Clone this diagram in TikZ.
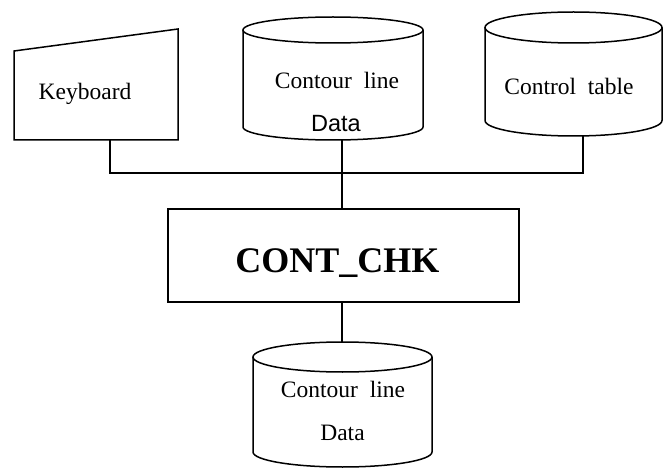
\documentclass[tikz,border=0pt]{standalone}
\usepackage{fontspec}
\setmainfont{Liberation Serif}
\setsansfont{Liberation Sans}

% outline of a drum (database) around an invisible shell node
% #1 shell node, #2 half width, #3 vertical radius of the ellipses
\newcommand\drumoutline[3]{%
  \draw ([yshift=-#3]#1.north) ellipse[x radius=#2, y radius=#3];
  \draw ([yshift=-#3]#1.north west) -- ([yshift=#3]#1.south west)
        arc[start angle=180, end angle=360, x radius=#2, y radius=#3]
        -- ([yshift=-#3]#1.north east);
}

\tikzset{
  shell/.style={inner sep=0pt, outer sep=0pt, draw=none},
  procbox/.style={draw, inner sep=0pt, outer sep=0pt},
  lbl/.style={inner sep=0pt, anchor=base, font=\fontsize{23.5}{28}\selectfont},
  biglbl/.style={inner sep=0pt, anchor=base, font=\fontsize{36}{42}\selectfont\bfseries},
  wire/.style={line width=1.5pt}
}

\begin{document}
\begin{tikzpicture}[x=1pt, y=1pt, line width=1.5pt, line join=miter]
  \fill[white] (0,0) rectangle (667,472);
  \useasboundingbox (0,0) rectangle (667,472);

  % keyboard (manual input)
  \node[shell, minimum width=164pt, minimum height=111pt] (kbd) at (96,387.5) {};
  \draw (kbd.south west) -- ([yshift=-22pt]kbd.north west) -- (kbd.north east)
        -- (kbd.south east) -- cycle;
  \node[lbl] (kbdtext) at (85,372) {Keyboard};

  % contour line data (input)
  \node[shell, minimum width=180pt, minimum height=123pt] (din) at (333,393.5) {};
  \drumoutline{din}{90pt}{13pt}
  \node[lbl] (dintexta) at (337,383) {Contour\ \ line};
  \node[lbl] (dintextb) at (336,340) {\sffamily Data};

  % control table
  \node[shell, minimum width=177pt, minimum height=124pt] (ctl) at (573.5,398) {};
  \drumoutline{ctl}{88.5pt}{15.5pt}
  \node[lbl] (ctltext) at (569,377) {Control\ \ table};

  % checking program
  \node[procbox, minimum width=351pt, minimum height=93pt] (chk) at (343.5,216.5) {};
  \node[biglbl] (chktext) at (337.5,200) {CONT\_CHK};

  % contour line data (output)
  \node[shell, minimum width=179pt, minimum height=125pt] (dout) at (342.5,67.5) {};
  \drumoutline{dout}{89.5pt}{15pt}
  \node[lbl] (douttexta) at (343,75) {Contour\ \ line};
  \node[lbl] (douttextb) at (342.5,32) {Data};

  % connectors
  \coordinate (busL) at (110,299);
  \coordinate (busR) at (583,299);
  \coordinate (busM) at (342,299);
  \draw[wire] (kbd.south -| busL) -- (busL) -- (busR) -- (ctl.south -| busR);
  \draw[wire] (din.south -| busM) -- (chk.north -| busM);
  \draw[wire] (chk.south -| busM) -- (dout.north -| busM);
\end{tikzpicture}
\end{document}
